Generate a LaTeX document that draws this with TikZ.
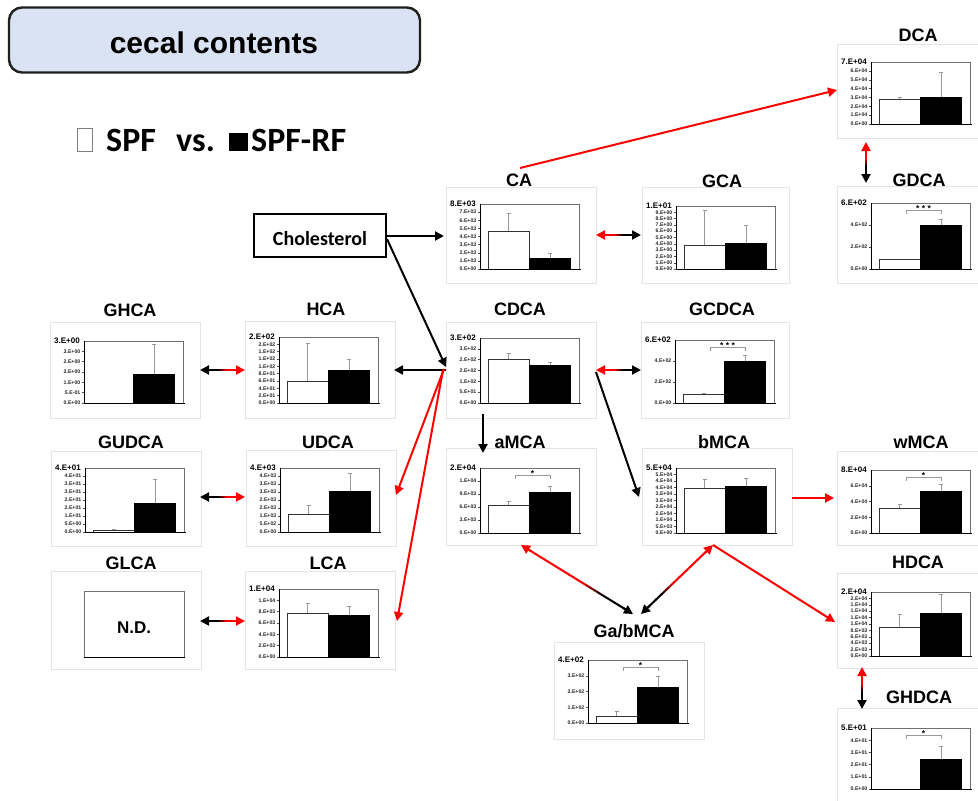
\documentclass[tikz,border=0pt]{standalone}
\usepackage{fontspec}
\setmainfont{Liberation Sans}
\newfontfamily\calib{Carlito}
\usetikzlibrary{arrows.meta,calc}

\definecolor{boxblue}{HTML}{DAE3F3}
\definecolor{framegray}{HTML}{E4E4E4}
\definecolor{plotgray}{HTML}{707070}
\definecolor{errgray}{HTML}{9A9A9A}
\definecolor{arrred}{HTML}{FF0000}

\tikzset{
  panelbox/.style={draw=framegray, line width=0.9pt, minimum width=150pt,
    minimum height=96pt, anchor=north west, inner sep=0pt},
  ptitle/.style={font=\bfseries\fontsize{18}{20}\selectfont, inner sep=0pt, anchor=base},
  ticklabel/.style={font=\bfseries\fontsize{5.2}{5.5}\selectfont, anchor=east,
    inner sep=0pt, text=black!85},
  maxlabel/.style={font=\bfseries\fontsize{8}{8}\selectfont, anchor=west, inner sep=0pt},
  starlabel/.style={font=\bfseries\fontsize{8.5}{8.5}\selectfont, inner sep=0pt},
  plotframe/.style={draw=plotgray, line width=0.7pt},
  axisline/.style={draw=black, line width=0.9pt},
  tickmark/.style={draw=black!70, line width=0.4pt},
  errbar/.style={draw=errgray, line width=0.5pt},
  whitebar/.style={fill=white, draw=black!80, line width=0.6pt},
  link/.style={line width=2pt},
  tip/.style={-{Triangle[length=9pt,width=9pt]}},
}

% bar chart inside a panel node:
% #1 panel, #2/#3 plot top/bottom offsets, #4 axis maximum label,
% #5 tick labels top to bottom, #6/#7 SPF bar and error, #8/#9 SPF-RF bar and error
\newcommand\chart[9]{%
  \begin{scope}[shift={(#1.north west)}]
    \pgfmathsetmacro\chh{#3-#2}%
    \xdef\sigtop{#2}%
    \gdef\cN{0}%
    \foreach \tk in {#5}{\pgfmathtruncatemacro\tmp{\cN+1}\global\let\cN\tmp}%
    \draw[plotframe] (34,#2) rectangle (133,#3);
    \node[maxlabel] (#1-max) at (4,#2) {#4};
    \foreach \tk [count=\ii from 0] in {#5}{%
      \pgfmathsetmacro\yy{#3-(\cN-1-\ii)*\chh/\cN}%
      \draw[tickmark] (31.5,\yy) -- (34,\yy);
      \node[ticklabel] (#1-t\ii) at (30.5,\yy) {\tk};
    }
    \pgfmathsetmacro\wy{#3-#6*\chh}\pgfmathsetmacro\wey{#3-#7*\chh}%
    \pgfmathsetmacro\by{#3-#8*\chh}\pgfmathsetmacro\bey{#3-#9*\chh}%
    \ifdim #6pt>0pt
      \draw[errbar] (62.5,\wy) -- (62.5,\wey) (60.5,\wey) -- (64.5,\wey);
      \draw[whitebar] (42,#3) rectangle (83,\wy);
    \fi
    \draw[errbar] (104,\by) -- (104,\bey) (102,\bey) -- (106,\bey);
    \fill[black] (83,#3) rectangle (125,\by);
    \draw[axisline] (34,#2) -- (34,#3) -- (135,#3);
  \end{scope}}

% significance bracket above the two bars of the last chart drawn
\newcommand\sig[2]{%
  \begin{scope}[shift={(#1.north west)}]
    \pgfmathsetmacro\sy{\sigtop+7.5}%
    \draw[errbar] (69,{\sy+3}) -- (69,\sy) -- (104,\sy) -- (104,{\sy+3});
    \node[starlabel] (#1-sig) at (86.5,{\sy-2}) {#2};
  \end{scope}}

% two-headed connector whose colour fades from #3 (at #1) to #4 (at #2)
% between the fractions #5 and #6 of its length
\newcommand\duo[6]{%
  \path ($(#1)!7pt!(#2)$) coordinate (duoA) ($(#2)!7pt!(#1)$) coordinate (duoB);
  \foreach \kk in {0,...,23}{%
    \pgfmathsetmacro\ta{\kk/24}%
    \pgfmathsetmacro\tb{(\kk+1.1)/24}%
    \pgfmathtruncatemacro\pp{max(0,min(100,100*((\kk+0.5)/24-#5)/(#6-#5)))}%
    \draw[link,draw=#4!\pp!#3] ($(duoA)!\ta!(duoB)$) -- ($(duoA)!\tb!(duoB)$);
  }%
  \draw[link,tip,#3] ($(#1)!12pt!(#2)$) -- (#1);
  \draw[link,tip,#4] ($(#2)!12pt!(#1)$) -- (#2);
}

\begin{document}
\begin{tikzpicture}[x=1pt,y=-1pt]
\useasboundingbox (0,0) rectangle (978,801);
\fill[white] (0,0) rectangle (978,801);

% heading and legend
\node[draw=black!88, line width=2.4pt, fill=boxblue, rounded corners=13pt,
  minimum width=411pt, minimum height=65pt, inner sep=0pt] (head) at (214.5,40) {};
\node[font=\bfseries\fontsize{30}{32}\selectfont, anchor=base, inner sep=0pt]
  (headtxt) at (214,53) {cecal contents};
\node[draw=black!50, line width=0.7pt, minimum width=15pt, minimum height=23pt,
  inner sep=0pt] (lgW) at (84.5,139.5) {};
\node[font=\calib\bfseries\fontsize{34}{36}\selectfont, anchor=base west, inner sep=0pt]
  (lgSPF) at (106,151) {SPF};
\node[font=\calib\bfseries\fontsize{34}{36}\selectfont, anchor=base west, inner sep=0pt]
  (lgVS) at (176,151) {vs.};
\node[fill=black, minimum width=19pt, minimum height=18pt, inner sep=0pt]
  (lgB) at (238.5,142) {};
\node[font=\calib\bfseries\fontsize{34}{36}\selectfont, anchor=base west, inner sep=0pt]
  (lgRF) at (251,151) {SPF-RF};

% cholesterol
\node[draw=black, line width=1.8pt, minimum width=132pt, minimum height=43pt,
  inner sep=0pt] (chol) at (320,235.5) {};
\node[font=\calib\bfseries\fontsize{20}{22}\selectfont, anchor=base, inner sep=0pt]
  (choltxt) at (320,245) {Cholesterol};

% panels
\node[panelbox, minimum height=94pt] (pDCA) at (837,44) {};
\node[panelbox, minimum height=97pt] (pGDCA) at (837,186) {};
\node[panelbox] (pCA) at (446,187) {};
\node[panelbox, minimum width=147pt] (pGCA) at (642,187) {};
\node[panelbox] (pGHCA) at (50,322) {};
\node[panelbox, minimum height=97pt] (pHCA) at (245,321) {};
\node[panelbox] (pCDCA) at (446,322) {};
\node[panelbox, minimum width=148pt] (pGCDCA) at (641,322) {};
\node[panelbox, minimum height=95pt] (pGUDCA) at (51,451) {};
\node[panelbox] (pUDCA) at (246,450) {};
\node[panelbox, minimum height=97pt] (paMCA) at (446,448) {};
\node[panelbox, minimum height=97pt] (pbMCA) at (642,448) {};
\node[panelbox, minimum height=94pt] (pwMCA) at (837,451) {};
\node[panelbox, minimum height=98pt] (pGLCA) at (51,571) {};
\node[panelbox, minimum height=98pt] (pLCA) at (245,571) {};
\node[panelbox, minimum height=95pt] (pHDCA) at (837,573) {};
\node[panelbox, minimum height=97pt] (pGaMCA) at (554,642) {};
\node[panelbox, minimum height=100pt] (pGHDCA) at (837,708) {};

% panel titles
\node[ptitle] (tDCA) at (918,41) {DCA};
\node[ptitle] (tGDCA) at (919,186) {GDCA};
\node[ptitle] (tCA) at (519,186) {CA};
\node[ptitle] (tGCA) at (722,187) {GCA};
\node[ptitle] (tGHCA) at (130,316) {GHCA};
\node[ptitle] (tHCA) at (326,315) {HCA};
\node[ptitle] (tCDCA) at (520,315) {CDCA};
\node[ptitle] (tGCDCA) at (722,315) {GCDCA};
\node[ptitle] (tGUDCA) at (131,448) {GUDCA};
\node[ptitle] (tUDCA) at (328,448) {UDCA};
\node[ptitle] (taMCA) at (520,448) {aMCA};
\node[ptitle] (tbMCA) at (724,448) {bMCA};
\node[ptitle] (twMCA) at (921,448) {wMCA};
\node[ptitle] (tGLCA) at (131,569) {GLCA};
\node[ptitle] (tLCA) at (328,569) {LCA};
\node[ptitle] (tHDCA) at (918,568) {HDCA};
\node[ptitle] (tGaMCA) at (634,637) {Ga/bMCA};
\node[ptitle] (tGHDCA) at (919,703) {GHDCA};

% charts
\chart{pDCA}{18}{80}{7.E+04}{6.E+04,5.E+04,4.E+04,3.E+04,2.E+04,1.E+04,0.E+00}{.40}{.43}{.44}{.84}
\chart{pGDCA}{17}{83}{6.E+02}{4.E+02,2.E+02,0.E+00}{.14}{.15}{.67}{.76}
\sig{pGDCA}{* * *}
\chart{pCA}{17}{82}{8.E+03}{7.E+03,6.E+03,5.E+03,4.E+03,3.E+03,2.E+03,1.E+03,0.E+00}{.58}{.86}{.17}{.25}
\chart{pGCA}{19}{82}{1.E+01}{9.E+00,8.E+00,7.E+00,6.E+00,5.E+00,4.E+00,3.E+00,2.E+00,1.E+00,0.E+00}{.38}{.94}{.41}{.70}
\chart{pGHCA}{19}{81}{3.E+00}{3.E+00,2.E+00,2.E+00,1.E+00,5.E-01,0.E+00}{0}{0}{.47}{.94}
\chart{pHCA}{16}{82}{2.E+02}{2.E+02,1.E+02,1.E+02,1.E+02,8.E+01,6.E+01,4.E+01,2.E+01,0.E+00}{.33}{.91}{.50}{.67}
\chart{pCDCA}{16}{81}{3.E+02}{3.E+02,2.E+02,2.E+02,1.E+02,5.E+01,0.E+00}{.68}{.77}{.58}{.62}
\chart{pGCDCA}{18}{81}{6.E+02}{4.E+02,2.E+02,0.E+00}{.14}{.15}{.67}{.76}
\sig{pGCDCA}{* * *}
\chart{pGUDCA}{17}{81}{4.E+01}{4.E+01,3.E+01,3.E+01,2.E+01,2.E+01,1.E+01,5.E+00,0.E+00}{.02}{.05}{.45}{.83}
\chart{pUDCA}{18}{82}{4.E+03}{4.E+03,3.E+03,3.E+03,2.E+03,2.E+03,1.E+03,5.E+02,0.E+00}{.27}{.42}{.64}{.92}
\chart{paMCA}{20}{85}{2.E+04}{1.E+04,9.E+03,6.E+03,3.E+03,0.E+00}{.43}{.49}{.63}{.72}
\sig{paMCA}{*}
\chart{pbMCA}{20}{85}{5.E+04}{5.E+04,4.E+04,4.E+04,3.E+04,3.E+04,2.E+04,2.E+04,1.E+04,5.E+03,0.E+00}{.69}{.82}{.72}{.85}
\chart{pwMCA}{19}{82}{8.E+04}{6.E+04,4.E+04,2.E+04,0.E+00}{.40}{.46}{.67}{.78}
\sig{pwMCA}{*}
\chart{pLCA}{18}{86}{1.E+04}{1.E+04,8.E+03,6.E+03,4.E+03,2.E+03,0.E+00}{.65}{.79}{.62}{.75}
\chart{pHDCA}{19}{83}{2.E+04}{2.E+04,1.E+04,1.E+04,1.E+04,1.E+04,8.E+03,6.E+03,4.E+03,2.E+03,0.E+00}{.45}{.66}{.67}{.97}
\chart{pGaMCA}{18}{81}{4.E+02}{3.E+02,2.E+02,1.E+02,0.E+00}{.10}{.19}{.57}{.75}
\sig{pGaMCA}{*}
\chart{pGHDCA}{20}{81}{5.E+01}{4.E+01,3.E+01,2.E+01,1.E+01,0.E+00}{0}{0}{.49}{.70}
\sig{pGHDCA}{*}

% GLCA: not detected
\begin{scope}[shift={(pGLCA.north west)}]
  \draw[plotframe] (33,20) rectangle (133,86);
  \draw[axisline] (33,86) -- (134,86);
  \node[font=\bfseries\fontsize{17}{18}\selectfont, inner sep=0pt] (nd) at (83,57) {N.D.};
\end{scope}

% connector end points
\coordinate (cholE) at (387,236);
\coordinate (cholB) at (387,239);
\coordinate (caW) at (444,236);
\coordinate (hub) at (446,367);
\coordinate (hubW) at (446,370);
\coordinate (hubR1) at (444,369);
\coordinate (hubR2) at (443,370);
\coordinate (hcaE) at (394,370);
\coordinate (udcaE) at (396,495);
\coordinate (lcaE) at (397,621);
\coordinate (caTop) at (520,168);
\coordinate (dcaW) at (837,90);
\coordinate (dcaS) at (866,142);
\coordinate (gdcaN) at (866,183);
\coordinate (caE) at (596,235);
\coordinate (gcaW) at (641,235);
\coordinate (ghcaE) at (200,370);
\coordinate (hcaW) at (245,370);
\coordinate (gudcaE) at (200,497);
\coordinate (udcaW) at (245,497);
\coordinate (glcaE) at (200,621);
\coordinate (lcaW) at (245,621);
\coordinate (cdcaE) at (596,370);
\coordinate (gcdcaW) at (641,370);
\coordinate (cdcaS) at (483,414);
\coordinate (amcaN) at (483,453);
\coordinate (cdcaSE) at (596,372);
\coordinate (bmcaNW) at (639,497);
\coordinate (bmcaE) at (792,498);
\coordinate (wmcaW) at (834,498);
\coordinate (amcaS) at (521,545);
\coordinate (gaL) at (633,614);
\coordinate (bmcaS) at (713,545);
\coordinate (gaR) at (641,614);
\coordinate (hdcaW) at (835,622);
\coordinate (hdcaS) at (862,667);
\coordinate (ghdcaN) at (862,709);

% connectors
\draw[link,tip] (cholE) -- (caW);
\draw[link,tip] (cholB) -- (hub);
\draw[link,tip] (hubW) -- (hcaE);
\draw[link,tip,arrred] (hubR1) -- (udcaE);
\draw[link,tip,arrred] (hubR2) -- (lcaE);
\draw[link,tip,arrred] (caTop) -- (dcaW);
\draw[link,tip] (cdcaS) -- (amcaN);
\draw[link,tip] (cdcaSE) -- (bmcaNW);
\draw[link,tip,arrred] (bmcaE) -- (wmcaW);
\draw[link,tip,arrred] (bmcaS) -- (hdcaW);
\duo{dcaS}{gdcaN}{arrred}{black}{0.35}{0.65}
\duo{caE}{gcaW}{arrred}{black}{0.35}{0.65}
\duo{ghcaE}{hcaW}{black}{arrred}{0.35}{0.65}
\duo{gudcaE}{udcaW}{black}{arrred}{0.35}{0.65}
\duo{glcaE}{lcaW}{black}{arrred}{0.35}{0.65}
\duo{cdcaE}{gcdcaW}{arrred}{black}{0.35}{0.65}
\duo{hdcaS}{ghdcaN}{arrred}{black}{0.35}{0.65}
\duo{amcaS}{gaL}{arrred}{black}{0.55}{0.75}
\duo{bmcaS}{gaR}{arrred}{black}{0.55}{0.75}
\end{tikzpicture}
\end{document}
